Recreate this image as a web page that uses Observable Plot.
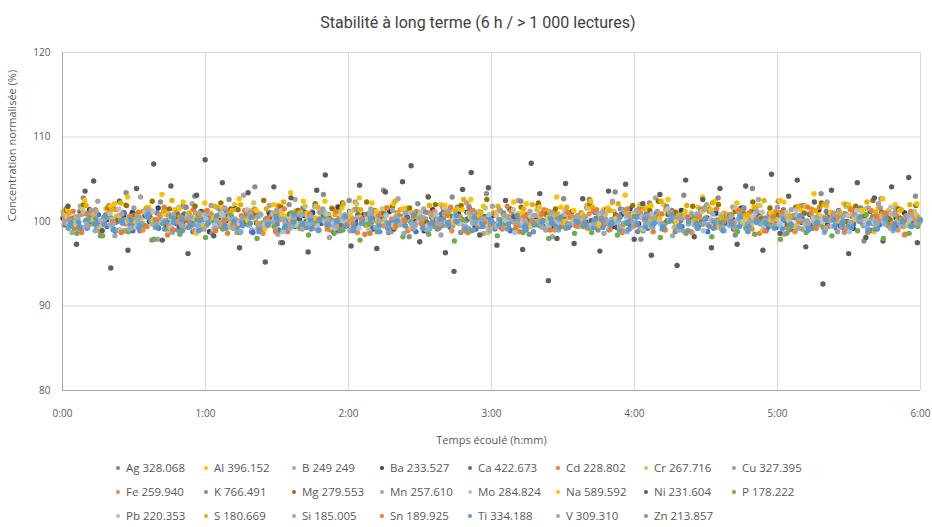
<!DOCTYPE html>
<html><head><meta charset="utf-8">
<script src="https://cdn.jsdelivr.net/npm/d3@7"></script>
<script src="https://cdn.jsdelivr.net/npm/@observablehq/plot@0.6"></script>
<style>
body{margin:0;background:#fff;font-family:"Open Sans",sans-serif;color:#595959;}
#wrap{width:932px;}
#title{height:36px;line-height:46px;text-align:center;font-family:Roboto,sans-serif;font-size:16px;color:#404040;padding-left:24px;box-sizing:border-box;white-space:nowrap;}
#legend{display:grid;grid-template-columns:repeat(8,88px);margin-left:116px;font-size:11.5px;line-height:24px;margin-top:0px;}
.item{white-space:nowrap;}
.sw{display:inline-block;width:4px;height:4px;border-radius:50%;margin-right:6px;vertical-align:middle;position:relative;top:-1px;}
</style></head><body>
<div id="wrap">
<div id="title">Stabilité à long terme (6 h / &gt; 1 000 lectures)</div>
<div id="chart"></div>
<div id="legend"></div>
</div>
<script>
const xTitle = "Temps écoulé (h:mm)";
const yTitle = "Concentration normalisée (%)";
const xTicks = [0, 60, 120, 180, 240, 300, 360];
const xTickLabels = ["0:00", "1:00", "2:00", "3:00", "4:00", "5:00", "6:00"];
const yTicks = [80, 90, 100, 110, 120];

const elements = ["Ag 328.068","Al 396.152","B 249 249","Ba 233.527","Ca 422.673","Cd 228.802","Cr 267.716","Cu 327.395",
  "Fe 259.940","K 766.491","Mg 279.553","Mn 257.610","Mo 284.824","Na 589.592","Ni 231.604","P 178.222",
  "Pb 220.353","S 180.669","Si 185.005","Sn 189.925","Ti 334.188","V 309.310","Zn 213.857"];
const colors = ["#6F86A8","#FFC000","#A5A5A5","#264478","#4472C4","#ED7D31","#C9C95A","#9E9E9E",
  "#F08A3E","#8C8C8C","#997300","#A5A5A5","#BFBFBF","#FFC000","#5E5E5E","#70AD47",
  "#9DC3E6","#E6B000","#7CAFDD","#ED7D31","#5B9BD5","#A5A5A5","#5B9BD5"];

const Ag = [100.4,99.6,101.2,100.1,99.3,100.8,101.5,99.9,100.2,98.9,100.6,101.0,99.5,100.3,101.8,100.0,99.2,100.7,100.4,101.3,99.8,100.1,98.8,100.9,101.1,99.7,100.5,100.2,101.6,99.4,100.0,100.8,99.1,100.6,101.4,100.3,99.9,100.7,98.7,101.0,100.2,99.6,101.2,100.5,99.8,100.9,101.7,100.1,99.5,100.4,100.0,101.3,99.2,100.6,100.8,99.7,101.0,100.3,99.9,100.5,
  100.7,99.4,101.1,100.0,99.8,101.5,100.3,98.8,100.9,100.5,99.6,101.3,100.1,99.9,100.6,101.8,99.3,100.4,100.8,99.7,101.0,100.2,98.9,100.7,101.4,99.5,100.0,100.9,99.8,101.2,100.4,99.2,100.6,101.6,100.1,99.7,100.3,101.0,99.4,100.8];
const Al = [101.2,100.4,101.8,100.9,99.8,101.5,102.1,100.6,101.0,100.2,101.7,99.6,100.8,101.4,102.3,100.5,101.1,99.9,101.6,100.7,102.0,100.3,101.3,100.9,99.5,101.9,100.6,101.2,102.4,100.1,101.0,100.7,101.8,99.7,101.4,100.8,102.2,100.4,101.1,100.9,101.6,99.9,100.5,101.3,102.0,100.7,101.5,100.2,101.0,101.8,100.6,99.8,101.4,100.9,102.1,100.3,101.2,100.8,101.7,100.5,
  100.6,101.9,100.2,101.4,102.2,100.8,99.7,101.1,101.6,100.4,102.0,100.9,101.3,99.9,101.7,100.5,102.4,101.0,100.3,101.5,100.7,101.9,100.1,101.2,102.3,100.6,101.4,99.8,101.0,101.8,100.4,102.1,100.9,101.3,100.2,101.6,100.7,102.0,101.1,100.5];
const B = [100.9,98.7,101.8,99.6,102.4,100.2,98.3,101.1,99.9,102.9,100.5,97.9,101.4,100.0,99.2,102.1,100.7,98.8,101.6,99.4,100.3,103.1,99.0,100.8,101.9,98.5,100.1,102.6,99.7,101.2,100.4,98.1,101.7,99.8,102.3,100.6,99.3,101.0,98.9,102.7,100.2,99.5,101.5,100.9,98.4,101.3,99.9,102.2,100.1,98.6,101.8,99.7,100.5,102.5,99.1,100.7,101.4,98.2,100.3,101.1,
  99.4,101.6,100.0,98.6,102.4,100.8,99.1,101.3,100.4,102.8,99.7,98.3,101.0,100.5,99.2,102.0,100.9,98.9,101.7,99.8,100.2,102.6,99.5,101.1,98.5,100.7,101.9,99.3,100.3,102.3,99.9,98.7,101.4,100.6,99.0,102.1,100.1,101.5,98.4,100.8];
const Ba = [100.3,99.5,100.9,101.4,99.8,100.2,98.9,100.7,101.1,99.6,100.0,101.6,99.3,100.5,100.8,99.9,101.2,98.8,100.4,100.1,101.5,99.7,100.6,99.2,100.9,101.3,100.0,99.4,100.7,101.0,99.8,100.3,101.7,99.5,100.2,100.8,99.1,100.5,101.2,99.9,100.6,100.0,98.9,101.4,100.4,99.7,100.9,101.1,99.6,100.3,100.7,99.3,101.5,100.1,99.8,100.6,101.0,99.4,100.2,100.8,
  100.5,99.9,101.2,100.0,99.4,100.8,101.5,99.7,100.3,100.9,99.1,100.6,101.3,100.1,99.6,100.4,101.0,99.8,100.2,101.6,99.5,100.7,100.0,99.3,101.1,100.5,99.9,100.8,101.4,99.6,100.2,100.9,99.2,100.6,101.2,100.0,99.7,100.4,101.0,99.8];
const Ca = [99.6,100.3,99.1,100.0,100.8,99.4,99.9,101.0,98.9,99.7,100.5,99.2,100.1,99.8,100.9,98.8,99.5,100.4,99.9,100.7,99.3,100.2,98.7,99.8,100.6,99.0,100.3,99.6,101.1,99.4,99.9,100.2,98.9,100.5,99.7,100.0,99.2,100.8,99.5,99.9,100.4,98.8,99.6,100.1,100.9,99.3,99.8,100.3,99.1,100.6,99.7,100.0,98.9,100.2,99.5,100.7,99.4,99.9,100.5,99.6,
  99.9,99.3,100.4,99.7,100.1,98.9,99.6,100.6,99.2,100.0,99.8,100.9,99.4,99.9,100.3,98.8,99.7,100.5,99.1,100.2,99.6,100.7,99.3,99.8,100.1,99.0,100.4,99.5,99.9,100.8,99.2,100.0,99.7,100.3,98.9,99.6,100.6,99.4,100.0,99.8];
const Cd = [99.8,101.2,98.7,100.4,99.3,101.6,100.1,98.9,100.7,99.5,101.0,100.2,98.4,100.9,99.7,101.4,99.1,100.3,100.8,98.6,99.9,101.3,100.5,99.2,100.0,101.8,98.8,100.6,99.4,100.2,101.1,99.0,100.4,99.6,101.5,98.5,100.1,100.9,99.3,100.7,98.9,101.2,99.8,100.3,99.5,101.7,100.0,98.7,100.6,99.9,101.0,99.1,100.4,98.8,100.8,99.6,101.3,100.2,99.4,100.5,
  100.6,99.2,101.4,99.8,100.3,98.7,100.9,101.6,99.5,100.1,99.0,101.1,100.4,98.8,100.7,99.6,101.5,100.0,99.3,100.8,101.2,98.6,100.2,99.7,101.0,100.5,99.1,100.9,101.7,99.4,100.3,98.9,100.6,99.8,101.3,100.1,99.5,100.7,98.5,101.0];
const Cr = [100.8,99.9,101.5,100.2,99.4,101.1,100.6,102.0,99.7,100.4,101.3,100.0,98.9,100.9,101.7,100.3,99.6,101.0,100.7,99.2,101.4,100.5,102.2,99.8,100.1,101.2,100.6,99.5,101.8,100.3,100.9,99.3,101.1,100.4,102.1,99.9,100.7,101.5,100.0,99.6,101.3,100.8,99.1,100.5,101.9,100.2,99.8,101.0,100.6,101.6,99.4,100.3,101.2,100.9,99.7,101.4,100.1,100.8,99.9,101.1,
  100.4,101.6,99.8,100.9,101.2,99.5,100.7,102.0,100.1,100.6,101.4,99.3,100.8,101.0,100.2,101.7,99.9,100.5,101.3,100.0,99.6,101.9,100.7,100.3,101.1,99.4,100.9,101.5,100.2,100.6,99.7,101.8,100.4,101.0,99.9,100.8,101.3,100.1,99.5,101.2];
const Cu = [100.1,99.4,100.9,101.3,99.8,100.5,98.9,100.2,101.6,99.7,100.0,100.8,99.2,101.1,100.4,99.6,100.7,101.9,99.9,100.3,98.7,100.6,101.2,99.5,100.0,101.0,99.3,100.4,100.9,99.8,101.5,100.2,99.1,100.7,101.4,99.6,100.1,100.8,98.8,100.5,101.1,99.9,100.3,99.4,101.7,100.0,100.6,99.2,101.0,100.4,99.7,100.9,101.3,99.5,100.2,100.7,99.0,101.2,100.1,99.8,
  100.6,99.5,101.0,100.3,99.8,101.4,100.0,99.2,100.7,101.2,99.9,100.4,98.9,100.8,101.5,99.6,100.2,100.9,99.4,101.1,100.1,99.7,100.5,101.7,99.3,100.6,100.0,101.3,99.8,100.4,98.8,100.9,101.0,99.5,100.3,101.6,100.1,99.9,100.7,99.6];
const Fe = [100.5,99.3,101.0,100.2,98.8,100.9,101.4,99.7,100.3,99.0,101.2,100.6,99.5,100.0,101.7,98.9,100.4,100.8,99.4,101.1,100.1,99.8,101.5,98.6,100.7,100.2,99.6,101.3,100.0,99.2,100.9,101.6,99.9,100.4,98.7,100.8,101.0,99.5,100.3,101.4,99.1,100.6,99.8,101.2,100.0,98.9,100.5,101.8,99.6,100.2,100.9,99.3,101.1,100.4,99.7,100.7,101.3,99.0,100.1,100.6,
  99.8,100.9,99.2,101.3,100.4,98.9,100.6,101.0,99.5,100.2,101.6,99.9,100.7,98.7,100.3,101.2,99.4,100.8,100.0,101.5,99.1,100.5,99.7,101.1,100.3,98.8,100.9,101.4,99.6,100.1,100.6,99.3,101.7,100.2,99.8,100.4,101.0,99.0,100.7,100.3];
const K = [101.5,99.2,102.8,100.4,98.3,101.9,100.0,103.4,99.6,101.2,97.8,102.3,100.7,99.0,101.7,103.0,100.2,98.6,101.4,102.6,99.4,100.9,104.1,99.8,101.0,97.5,102.0,100.5,99.3,101.8,103.2,100.1,98.9,102.5,100.8,99.5,101.3,103.7,99.9,100.6,98.2,102.1,101.1,99.7,100.3,102.9,98.7,101.6,100.4,103.3,99.1,101.0,100.0,102.4,98.5,101.9,100.7,99.6,102.7,101.2,
  100.3,102.6,99.0,101.4,103.5,99.7,100.9,97.9,102.2,100.5,101.8,98.8,103.1,100.0,101.3,99.4,102.8,100.7,98.4,101.6,103.9,99.9,101.0,102.4,98.6,100.4,101.9,99.2,103.3,100.8,99.6,102.0,101.2,97.7,100.6,102.7,99.8,101.5,100.1,103.0];
const Mg = [101.3,100.5,102.0,100.9,99.7,101.6,100.2,101.9,100.7,101.2,102.4,100.0,101.5,100.8,99.9,101.8,101.1,100.4,102.2,100.6,101.4,99.8,101.0,102.5,100.3,101.7,100.9,101.3,100.1,102.1,100.7,101.5,99.6,101.2,100.8,102.3,100.5,101.0,101.8,100.2,101.6,100.9,99.9,102.0,101.3,100.6,101.9,100.4,101.1,102.6,100.8,100.0,101.4,101.7,100.3,102.2,100.9,101.5,100.6,101.2,
  101.0,102.1,100.4,101.5,100.8,99.8,101.9,100.6,101.3,102.4,100.1,101.1,100.7,101.8,99.9,101.4,102.0,100.5,101.2,100.9,102.3,100.3,101.6,100.8,99.7,101.7,101.0,100.4,102.2,100.9,101.3,100.0,101.8,100.6,102.5,101.1,100.2,101.5,100.7,101.9];
const Mn = [99.8,100.5,99.3,100.9,100.1,99.6,100.7,98.9,100.3,101.2,99.7,100.0,100.8,99.4,100.4,101.0,99.1,100.2,99.9,100.6,98.8,100.3,101.4,99.5,100.0,100.7,99.2,100.9,99.8,100.4,101.1,99.6,100.1,98.9,100.5,100.8,99.3,100.2,101.3,99.7,100.0,100.6,99.0,100.4,100.9,99.5,100.2,101.0,99.8,100.3,99.4,100.7,100.1,99.6,101.2,100.0,99.2,100.5,100.8,99.9,
  100.3,99.6,100.8,99.9,100.2,101.1,99.4,100.5,99.8,100.0,100.9,99.3,100.6,100.1,99.7,101.3,99.5,100.4,98.9,100.7,100.2,99.8,101.0,99.6,100.3,100.8,99.1,100.5,99.9,100.1,101.2,99.4,100.6,100.0,99.7,100.9,99.2,100.4,100.7,99.8];
const Mo = [100.6,99.8,101.1,100.2,99.5,100.9,101.5,100.0,99.3,100.7,101.2,99.9,100.4,101.7,99.6,100.3,100.8,99.1,101.0,100.5,99.8,101.4,100.1,99.7,100.9,101.3,100.2,99.4,100.6,101.8,100.0,99.9,100.7,101.1,99.2,100.4,100.8,101.5,99.6,100.3,101.0,100.1,99.5,100.9,101.6,100.2,99.8,100.5,101.2,99.3,100.7,100.0,101.4,99.9,100.6,101.0,99.7,100.3,101.3,100.1,
  100.9,100.1,99.6,101.3,100.4,99.8,101.0,100.6,99.4,100.2,101.5,100.0,100.7,99.7,101.2,100.3,99.9,100.8,101.6,99.5,100.5,101.1,100.2,99.8,100.9,101.4,99.6,100.4,100.0,101.0,99.3,100.7,101.3,100.1,99.9,100.6,101.7,100.2,99.7,100.8];
const Na = [101.4,99.6,102.5,100.3,98.9,101.8,100.7,102.9,99.9,101.1,100.2,103.2,99.3,101.5,100.8,98.6,102.2,100.5,101.7,99.8,102.7,100.1,101.3,99.1,102.0,100.9,103.4,99.7,101.0,100.4,102.4,98.8,101.6,100.6,102.8,99.5,101.2,100.0,102.1,101.5,99.2,100.8,103.0,100.3,101.9,99.9,101.4,102.6,100.7,98.7,101.1,100.2,102.3,101.0,99.4,101.7,100.5,102.9,100.0,101.3,
  100.9,102.4,99.5,101.6,100.2,103.1,100.7,99.0,101.9,100.4,102.6,99.8,101.2,100.0,102.9,101.4,99.3,100.8,102.2,100.5,101.7,98.9,101.0,102.5,100.3,99.6,101.8,103.3,100.6,101.1,99.9,102.0,100.2,101.5,98.8,102.7,100.9,101.3,99.7,102.1];
const Ni = [101.8,97.3,103.6,104.8,98.9,94.5,102.4,96.6,103.9,100.7,106.8,97.8,104.2,99.4,96.2,103.1,107.3,98.3,104.6,101.5,96.9,103.4,99.8,95.2,104.1,97.5,102.8,100.3,96.4,103.7,105.5,98.7,102.2,97.1,104.3,100.9,96.8,103.5,99.1,104.7,106.6,97.6,102.9,100.2,96.3,94.1,103.8,105.8,98.4,104.0,97.2,102.5,100.6,96.7,106.9,103.3,93.0,98.0,104.5,97.4,102.7,100.1,96.5,103.6,99.3,104.4,97.9,102.1,96.0,103.2,100.8,94.8,104.9,98.2,102.6,96.9,103.9,99.7,97.3,104.2,101.2,96.6,105.6,98.6,103.0,104.9,97.0,102.3,92.6,103.7,99.5,96.2,104.6,98.1,102.8,97.7,104.1,100.4,105.2,97.5];
const P = [99.2,98.6,100.1,99.7,98.3,100.4,99.0,98.8,100.9,99.5,97.9,99.8,100.6,98.5,99.3,100.2,98.1,99.9,99.1,100.7,98.7,99.6,98.0,100.3,99.4,98.9,101.0,99.2,98.4,99.8,100.5,98.6,99.0,100.0,97.8,99.7,98.8,100.8,99.3,98.2,99.9,100.4,98.5,99.1,99.6,97.7,100.2,98.9,99.4,100.6,98.3,99.8,99.0,98.7,100.1,99.5,98.0,100.3,99.2,98.6,
  99.4,98.7,100.3,99.0,98.4,99.8,100.6,98.9,99.5,98.1,100.0,99.3,98.6,100.4,99.7,98.2,99.9,100.7,98.8,99.2,98.5,100.1,99.6,97.9,99.0,100.5,98.7,99.8,99.3,98.3,100.2,99.5,98.9,100.8,99.1,98.0,99.7,100.3,98.6,99.4];
const Pb = [99.7,100.4,99.2,100.8,99.9,100.2,98.9,100.6,99.5,101.0,99.8,100.1,99.3,100.5,100.9,99.0,100.3,99.6,100.7,99.4,100.0,101.2,99.1,99.9,100.4,98.8,100.6,99.7,100.2,99.5,100.9,99.2,100.1,99.8,100.5,98.9,100.3,100.7,99.4,100.0,99.6,101.1,99.3,100.2,99.9,100.6,99.0,100.4,99.7,100.8,99.5,100.1,98.7,100.3,99.8,100.5,99.4,100.0,100.9,99.6,
  100.2,99.6,100.7,99.3,100.0,100.5,99.8,99.1,100.9,99.7,100.3,99.4,100.6,100.1,98.9,99.9,100.8,99.5,100.2,99.8,101.0,99.3,100.4,99.6,100.0,100.7,99.2,99.9,100.5,99.4,100.1,98.8,100.6,99.7,100.3,99.9,100.9,99.5,100.2,99.8];
const S = [101.0,100.3,101.9,100.6,99.7,101.4,102.2,100.1,100.8,101.6,99.9,101.2,102.5,100.4,101.0,100.7,99.5,101.8,100.2,101.3,102.0,100.5,99.8,101.5,100.9,102.3,100.0,101.1,100.6,101.7,99.6,100.8,102.1,100.3,101.4,100.9,99.9,101.6,102.4,100.2,101.0,100.5,101.9,99.7,100.7,101.3,102.6,100.4,101.1,100.0,101.8,100.6,99.8,101.5,102.0,100.3,101.2,100.9,101.7,100.1,
  100.6,101.7,100.2,101.3,102.1,100.9,99.8,101.5,100.4,102.4,101.0,100.7,101.9,100.1,101.4,102.2,100.5,99.9,101.2,100.8,101.6,102.5,100.3,101.0,100.6,101.8,99.7,101.3,102.0,100.4,100.9,101.6,100.2,102.3,101.1,100.7,99.8,101.4,102.0,100.5];
const Si = [99.4,100.1,99.8,98.9,100.5,99.6,100.2,99.1,99.9,100.8,99.3,100.0,98.7,99.7,100.4,99.5,100.9,99.2,99.8,100.3,98.8,99.6,100.6,99.9,99.0,100.2,99.4,100.7,99.7,98.9,100.1,99.5,100.4,99.2,99.8,101.0,99.3,99.9,100.5,98.6,99.7,100.3,99.1,100.0,99.6,100.8,99.4,99.8,100.2,98.9,99.5,100.6,99.9,99.2,100.1,99.7,100.4,99.0,99.6,100.3,
  99.8,99.2,100.4,99.6,100.1,98.8,99.9,100.6,99.3,99.7,100.2,99.0,100.5,99.5,99.8,100.9,99.1,99.6,100.3,98.9,99.9,100.0,99.4,100.7,99.6,99.2,100.1,99.8,98.7,100.4,99.5,99.9,100.6,99.3,100.0,99.7,98.9,100.2,99.4,99.8];
const Sn = [100.3,99.2,100.9,101.4,99.7,100.0,98.7,100.6,101.1,99.4,100.2,101.7,99.0,100.5,99.8,100.8,101.3,98.9,100.1,99.6,100.7,101.0,99.3,100.4,98.8,101.5,100.0,99.5,100.9,100.2,99.1,101.2,100.6,99.8,100.3,98.6,100.7,101.6,99.4,100.1,100.5,99.7,101.0,99.2,100.8,100.0,98.9,101.3,100.4,99.6,100.2,101.8,99.3,100.6,99.9,100.9,99.0,100.3,101.1,99.5,
  99.9,101.2,100.4,99.1,100.7,101.5,99.6,100.2,98.8,100.9,101.0,99.4,100.5,99.8,101.6,100.1,99.3,100.8,101.3,99.7,100.3,98.9,100.6,101.1,99.5,100.0,101.7,99.2,100.4,100.9,99.8,101.4,100.2,98.7,100.6,101.0,99.6,100.3,101.2,99.9];
const Ti = [99.5,99.9,99.2,100.3,99.7,99.0,100.1,99.6,99.3,100.5,99.8,99.1,99.9,100.2,99.4,98.9,99.7,100.4,99.5,99.2,100.0,99.8,98.8,99.6,100.6,99.3,99.9,99.5,100.2,99.0,99.7,100.1,99.4,98.9,99.8,100.3,99.6,99.2,100.0,99.5,99.1,100.4,99.7,99.3,99.9,100.7,99.4,99.0,99.8,100.2,99.6,99.1,100.0,99.5,98.8,99.9,100.3,99.3,99.7,100.1,
  99.8,99.3,100.2,99.6,99.0,99.9,100.5,99.4,99.7,99.1,100.1,99.5,98.9,99.8,100.3,99.2,99.6,100.0,99.4,98.8,99.9,100.4,99.5,99.1,99.7,100.6,99.3,99.8,99.0,100.2,99.6,99.4,100.0,98.9,99.7,100.3,99.2,99.8,99.5,100.1];
const V = [100.0,100.7,99.5,101.2,100.3,99.8,100.9,99.2,100.5,101.4,99.7,100.1,100.8,99.4,100.6,101.0,99.9,100.2,101.6,99.3,100.4,100.9,99.6,100.0,101.3,99.8,100.5,99.1,100.7,101.1,100.2,99.5,100.8,100.3,99.9,101.5,100.1,99.6,100.6,101.0,99.2,100.4,100.8,99.7,101.2,100.0,99.4,100.9,100.3,99.8,101.4,100.5,99.9,100.1,100.7,99.3,101.0,100.2,99.6,100.6,
  100.5,99.8,101.1,100.2,99.4,100.7,101.3,99.9,100.3,99.6,101.0,100.4,99.7,100.9,101.5,100.0,99.3,100.6,100.8,99.9,101.2,100.1,99.5,100.7,101.4,100.3,99.8,100.5,99.2,101.0,100.6,99.9,100.2,101.6,99.7,100.4,100.9,99.4,100.8,100.0];
const Zn = [99.9,99.4,100.3,99.7,100.6,99.1,99.8,100.2,99.5,100.8,99.3,99.9,100.4,98.9,99.6,100.1,99.8,100.7,99.2,100.0,99.5,100.5,99.0,99.7,100.3,99.4,100.9,99.8,99.1,100.2,99.6,100.0,100.6,99.3,99.9,100.4,98.8,99.7,100.1,99.5,100.8,99.2,99.8,100.3,99.6,100.0,99.1,100.5,99.4,99.9,100.2,99.7,100.7,99.0,99.6,100.1,99.8,100.4,99.3,99.9,
  99.6,100.2,99.3,99.9,100.5,99.1,99.7,100.3,99.8,99.4,100.8,99.5,100.0,99.2,100.4,99.9,98.9,99.7,100.6,99.4,100.1,99.8,99.2,100.3,99.6,100.7,99.0,99.9,100.2,99.5,100.0,99.3,100.5,99.8,99.1,100.4,99.7,100.0,99.4,100.2];

const seriesValues = [Ag,Al,B,Ba,Ca,Cd,Cr,Cu,Fe,K,Mg,Mn,Mo,Na,Ni,P,Pb,S,Si,Sn,Ti,V,Zn];
const durationMin = 360;

// Long-format table: readings are taken one element after another over the 6 h run
const rows = [];
seriesValues.forEach((vals, s) => {
  const n = vals.length;
  vals.forEach((v, i) => {
    rows.push({series: elements[s], t: (i + (s + 0.5) / elements.length) * durationMin / n, v});
  });
});

const chart = Plot.plot({
  width: 932, height: 420,
  marginLeft: 62, marginRight: 12, marginTop: 16, marginBottom: 66,
  style: {fontFamily: "'Open Sans', sans-serif", fontSize: "10px", color: "#595959", background: "white"},
  x: {domain: [0, 360]},
  y: {domain: [80, 120]},
  color: {domain: elements, range: colors},
  marks: [
    Plot.gridX(xTicks, {stroke: "#d9d9d9", strokeOpacity: 1}),
    Plot.gridY(yTicks, {stroke: "#d9d9d9", strokeOpacity: 1}),
    Plot.dot(rows, {x: "t", y: "v", fill: "series", r: 2.7, stroke: "none"}),
    Plot.ruleX([0], {stroke: "#a6a6a6"}),
    Plot.ruleY([80], {stroke: "#a6a6a6"}),
    Plot.axisX(xTicks, {tickSize: 0, tickPadding: 19, label: null, fill: "#595959", tickFormat: (d) => xTickLabels[xTicks.indexOf(d)]}),
    Plot.axisY(yTicks, {tickSize: 0, tickPadding: 12, label: null, fill: "#595959"}),
    Plot.text([xTitle], {text: d => d, frameAnchor: "bottom", dy: 50, lineAnchor: "middle", fill: "#595959", fontSize: 11}),
    Plot.text([yTitle], {text: d => d, frameAnchor: "left", dx: -50, rotate: -90, lineAnchor: "middle", fill: "#595959", fontSize: 11})
  ]
});
document.getElementById("chart").append(chart);

const legend = document.getElementById("legend");
elements.forEach((name, i) => {
  const it = document.createElement("div");
  it.className = "item";
  const sw = document.createElement("span");
  sw.className = "sw";
  sw.style.background = colors[i];
  it.append(sw, document.createTextNode(name));
  legend.append(it);
});
</script>
</body></html>
